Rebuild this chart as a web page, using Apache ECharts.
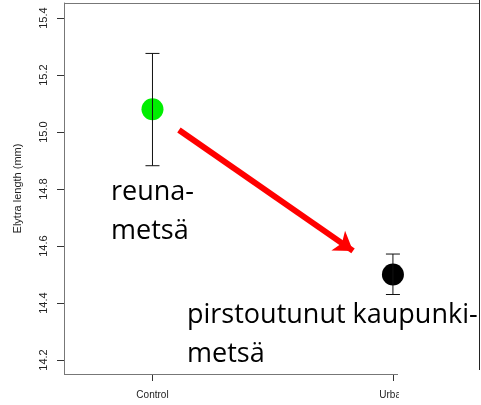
<!DOCTYPE html>
<html>
<head>
<meta charset="utf-8">
<script src="https://cdn.jsdelivr.net/npm/echarts@6/dist/echarts.min.js"></script>
<style>
  html, body { margin: 0; padding: 0; background: #fff; }
  #chart { width: 481px; height: 405px; }
</style>
</head>
<body>
<div id="chart"></div>
<script>
  // data
  var categories = ['Control', 'Urban']
  var xPos = [1, 2]
  var means = [15.08, 14.50]
  var upper = [15.276, 14.572]
  var lower = [14.882, 14.430]
  var pointColors = ['#00ee00', '#000000']
  var yTicks = [14.2, 14.4, 14.6, 14.8, 15.0, 15.2, 15.4]
  // arrow in data space (from -> to)
  var arrowFrom = [1.11, 15.007]
  var arrowTo = [1.834, 14.583]

  var chart = echarts.init(document.getElementById('chart'))

  var option = {
    animation: false,
    grid: { left: 64, top: 3, width: 415, height: 371, show: false },
    xAxis: {
      type: 'value',
      min: 0.632,
      max: 2.358,
      splitLine: { show: false },
      axisLine: { show: false },
      axisTick: { show: true, length: 7, customValues: xPos, lineStyle: { color: '#333' } },
      axisLabel: {
        customValues: xPos,
        margin: 16,
        fontFamily: 'Liberation Sans',
        fontSize: 10,
        color: '#222',
        formatter: function (v) { return categories[Math.round(v) - 1] || '' }
      }
    },
    yAxis: {
      type: 'value',
      min: 14.151,
      max: 15.453,
      name: 'Elytra length (mm)',
      nameLocation: 'middle',
      nameRotate: 90,
      nameGap: 41,
      nameTextStyle: { fontFamily: 'Liberation Sans', fontSize: 11, color: '#222' },
      splitLine: { show: false },
      axisLine: { show: true, lineStyle: { color: '#777', width: 1 } },
      axisTick: { show: true, length: 7, customValues: yTicks, lineStyle: { color: '#333' } },
      axisLabel: {
        customValues: yTicks,
        rotate: 90,
        margin: 15,
        fontFamily: 'Liberation Sans',
        fontSize: 11,
        color: '#222',
        formatter: function (v) { return v.toFixed(1) }
      }
    },
    series: [
      {
        // error bars
        type: 'custom',
        data: xPos.map(function (x, i) { return [x, lower[i], upper[i]] }),
        renderItem: function (params, api) {
          var lo = api.coord([api.value(0), api.value(1)])
          var hi = api.coord([api.value(0), api.value(2)])
          var cap = 7
          var style = { stroke: '#111', lineWidth: 1 }
          return {
            type: 'group',
            children: [
              { type: 'line', shape: { x1: lo[0], y1: lo[1], x2: hi[0], y2: hi[1] }, style: style },
              { type: 'line', shape: { x1: hi[0] - cap, y1: hi[1], x2: hi[0] + cap, y2: hi[1] }, style: style },
              { type: 'line', shape: { x1: lo[0] - cap, y1: lo[1], x2: lo[0] + cap, y2: lo[1] }, style: style }
            ]
          }
        },
        z: 3
      },
      {
        type: 'scatter',
        symbolSize: 22,
        data: xPos.map(function (x, i) {
          return { value: [x, means[i]], itemStyle: { color: pointColors[i], opacity: 1 } }
        }),
        z: 2
      },
      {
        type: 'lines',
        coordinateSystem: 'cartesian2d',
        symbol: ['none', 'arrow'],
        symbolSize: 18,
        lineStyle: { color: '#ff0000', width: 6, opacity: 1 },
        data: [{ coords: [arrowFrom, arrowTo] }],
        z: 4
      }
    ],
    graphic: [
      { type: 'line', z: 50, shape: { x1: 64, y1: 3.5, x2: 479, y2: 3.5 }, style: { stroke: '#777', lineWidth: 1 } },
      { type: 'line', z: 50, shape: { x1: 64, y1: 374.5, x2: 398, y2: 374.5 }, style: { stroke: '#777', lineWidth: 1 } },
      { type: 'line', z: 50, shape: { x1: 479.5, y1: 0, x2: 479.5, y2: 370 }, style: { stroke: '#222', lineWidth: 1 } },
      { type: 'rect', z: 60, shape: { x: 399, y: 376, width: 82, height: 29 }, style: { fill: '#fff' } },
      {
        type: 'text', z: 70, left: 111, top: 173,
        style: { text: 'reuna-\nmetsä', font: '27px "Open Sans"', fill: '#000', lineHeight: 39 }
      },
      {
        type: 'text', z: 70, left: 187, top: 296,
        style: { text: 'pirstoutunut kaupunki-\nmetsä', font: '27px "Open Sans"', fill: '#000', lineHeight: 39 }
      }
    ]
  }

  chart.setOption(option)
</script>
</body>
</html>
